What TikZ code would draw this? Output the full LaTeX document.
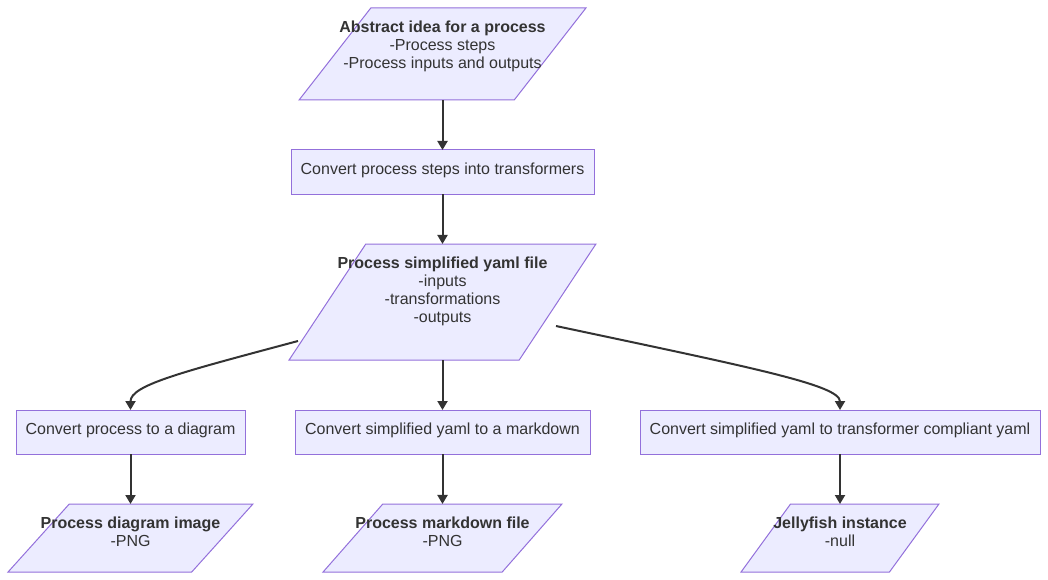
\documentclass[tikz,border=0pt]{standalone}
\usepackage{fontspec}
\setmainfont{Liberation Sans}
\usetikzlibrary{shapes.geometric,arrows.meta}
\definecolor{nodefill}{HTML}{ECECFF}
\definecolor{nodeline}{HTML}{9370DB}
\definecolor{ink}{HTML}{333333}

\begin{document}
\begin{tikzpicture}[x=1pt, y=1pt, font=\fontsize{16}{18}\selectfont, text=ink,
  procbox/.style={draw=nodeline, fill=nodefill, line width=1pt, rectangle, inner sep=0pt, outer sep=0pt, minimum height=44pt, text height=11.6pt, text depth=7.5pt},
  iobox/.style={draw=nodeline, fill=nodefill, line width=1pt, trapezium, trapezium left angle=63.43, trapezium right angle=116.57, trapezium stretches=true, inner sep=2pt, outer sep=0pt},
  lbl/.style={align=center, inner sep=0pt},
  flow/.style={draw=ink, line width=2pt, -{Triangle[length=9pt,width=10pt]}}]
\useasboundingbox (0,0) rectangle (1048,-580);

% input and first step
\node[iobox, minimum width=287pt, minimum height=92pt] (idea) at (442.5,-54) {};
\node[lbl] (ideatxt) at (442.5,-46) {\textbf{Abstract idea for a process}\\-Process steps\\-Process inputs and outputs};
\node[procbox, minimum width=303pt] (steps) at (442.5,-172) {Convert process steps into transformers};

% simplified yaml
\node[iobox, minimum width=307pt, minimum height=116pt] (yaml) at (442.5,-302) {};
\node[lbl] (yamltxt) at (442.5,-291) {\textbf{Process simplified yaml file}\\-inputs\\-transformations\\-outputs};
\coordinate (yamlleft) at (298,-341);
\coordinate (yamlright) at (556,-326);

% conversions
\node[procbox, minimum width=229pt] (todiag) at (130.5,-432) {Convert process to a diagram};
\node[procbox, minimum width=295pt] (tomd) at (442.5,-432) {Convert simplified yaml to a markdown};
\node[procbox, minimum width=400pt] (tojf) at (840,-432) {Convert simplified yaml to transformer compliant yaml};

% outputs
\node[iobox, minimum width=245pt, minimum height=68pt] (diagimg) at (130.5,-538) {};
\node[lbl] (diagimgtxt) at (130.5,-532) {\textbf{Process diagram image}\\-PNG};
\node[iobox, minimum width=239pt, minimum height=68pt] (mdfile) at (442.5,-538) {};
\node[lbl] (mdfiletxt) at (442.5,-532) {\textbf{Process markdown file}\\-PNG};
\node[iobox, minimum width=198pt, minimum height=68pt] (jfinst) at (840,-538) {};
\node[lbl] (jfinsttxt) at (840,-532) {\textbf{Jellyfish instance}\\-null};

\draw[flow] (yamlleft) .. controls +(-165:120) and +(90:25) .. (todiag.north);
\draw[flow] (yamlright) .. controls +(-12:200) and +(90:25) .. (tojf.north);
\draw[flow] (idea) -- (steps);
\draw[flow] (steps) -- (yaml);
\draw[flow] (yaml) -- (tomd);
\draw[flow] (todiag) -- (diagimg);
\draw[flow] (tomd) -- (mdfile);
\draw[flow] (tojf) -- (jfinst);
\end{tikzpicture}
\end{document}
